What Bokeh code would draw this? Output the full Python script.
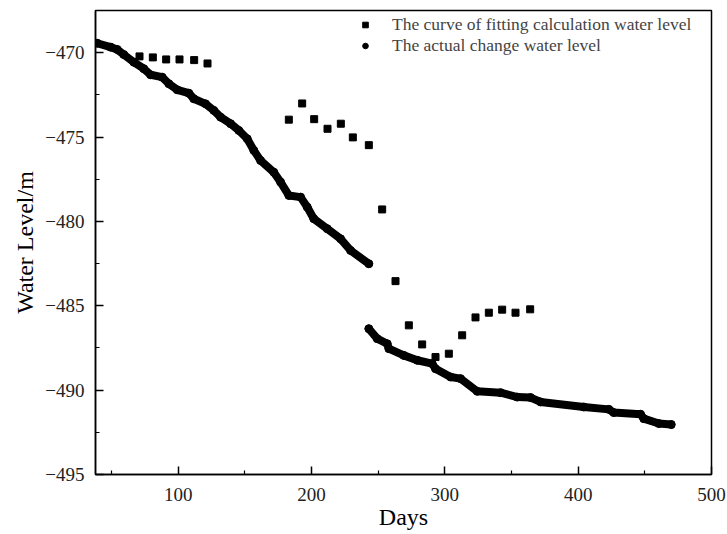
from bokeh.plotting import figure
from bokeh.models import Range1d, FixedTicker, Legend, LegendItem
from bokeh.embed import file_html
from bokeh.resources import INLINE

# ---- data ----
fit_days = [71, 81, 91, 101, 112, 122,
            183, 193, 202, 212, 222, 231, 243, 253,
            263, 273, 283, 293, 303, 313, 323, 333, 343, 353, 364]
fit_level = [-470.22, -470.28, -470.40, -470.40, -470.44, -470.64,
             -473.97, -473.01, -473.94, -474.51, -474.21, -475.02, -475.48, -479.29,
             -483.54, -486.16, -487.29, -488.04, -487.84, -486.75, -485.69, -485.41,
             -485.23, -485.41, -485.21]

actual_days_1 = [39.3, 49.3, 54.3, 59.2, 66.7, 74.2, 79.3, 88.0, 93.0, 99.3, 108.0, 111.7,
                 120.5, 126.7, 131.8, 139.3, 145.5, 151.8, 156.7, 161.8, 171.7, 176.8,
                 183.0, 191.8, 196.8, 201.7, 211.8, 221.8, 229.3, 243.0]
actual_level_1 = [-469.44, -469.67, -469.81, -470.11, -470.56, -470.95, -471.31, -471.45,
                  -471.84, -472.20, -472.40, -472.73, -473.03, -473.42, -473.82, -474.21,
                  -474.61, -475.10, -475.79, -476.39, -477.08, -477.67, -478.46, -478.56,
                  -479.15, -479.84, -480.43, -481.03, -481.72, -482.51]
actual_days_2 = [243.0, 249.3, 256.8, 258.0, 269.2, 279.3, 290.5, 293.0, 304.3, 311.8,
                 324.3, 341.8, 354.3, 364.3, 371.8, 404.2, 423.0, 426.7, 446.8, 449.2,
                 460.5, 469.8]
actual_level_2 = [-486.36, -486.95, -487.25, -487.54, -487.94, -488.23, -488.43, -488.73,
                  -489.22, -489.32, -490.07, -490.15, -490.41, -490.44, -490.70, -491.00,
                  -491.14, -491.33, -491.43, -491.69, -491.98, -492.04]

x_ticks = [100, 200, 300, 400, 500]
x_minor = [50, 150, 250, 350, 450]
y_ticks = [-495, -490, -485, -480, -475, -470]
y_minor = [-492.5, -487.5, -482.5, -477.5, -472.5, -467.5]

FONT = "Liberation Serif"

p = figure(width=727, height=534, output_backend="svg", toolbar_location=None,
           x_range=Range1d(38, 500), y_range=Range1d(-495, -467.5),
           min_border_left=95, min_border_right=16, min_border_top=10, min_border_bottom=60)
p.background_fill_color = "white"
p.border_fill_color = "white"
p.grid.visible = False
p.outline_line_color = "black"
p.outline_line_width = 1.5

for ax in (p.xaxis[0], p.yaxis[0]):
    ax.axis_line_color = "black"
    ax.axis_line_width = 1.5
    ax.major_tick_line_color = "black"
    ax.minor_tick_line_color = "black"
    ax.major_tick_line_width = 1.5
    ax.minor_tick_line_width = 1.2
    ax.major_tick_in = 8
    ax.major_tick_out = 0
    ax.minor_tick_in = 4
    ax.minor_tick_out = 0
    ax.major_label_text_font = FONT
    ax.major_label_text_font_size = "19px"
    ax.major_label_text_color = "#222222"
    ax.axis_label_text_font = FONT
    ax.axis_label_text_font_size = "24px"
    ax.axis_label_text_font_style = "normal"
    ax.axis_label_text_color = "black"

p.xaxis.ticker = FixedTicker(ticks=x_ticks, minor_ticks=x_minor)
p.yaxis.ticker = FixedTicker(ticks=y_ticks, minor_ticks=y_minor)
p.yaxis.major_label_overrides = {t: "\u2212" + str(abs(t)) for t in y_ticks}
p.xaxis.axis_label = "Days"
p.yaxis.axis_label = "Water Level/m"
p.xaxis.major_label_standoff = 13
p.yaxis.major_label_standoff = 11
p.xaxis.axis_label_standoff = 0
p.yaxis.axis_label_standoff = 4

# actual curve (thick dotted trace)
p.line(actual_days_1, actual_level_1, line_width=8, color="black", line_cap="round", line_join="round")
p.line(actual_days_2, actual_level_2, line_width=8, color="black", line_cap="round", line_join="round")
act = p.scatter(actual_days_1 + actual_days_2, actual_level_1 + actual_level_2,
                marker="circle", size=8, color="black")
fit = p.scatter(fit_days, fit_level, marker="square", size=7, color="black")

legend = Legend(items=[LegendItem(label="The curve of fitting calculation water level", renderers=[fit]),
                       LegendItem(label="The actual change water level", renderers=[act])],
                location=(263, 418))
legend.border_line_color = None
legend.background_fill_alpha = 0
legend.label_text_font = FONT
legend.label_text_font_size = "17.5px"
legend.glyph_width = 14
legend.glyph_height = 21
legend.label_height = 21
legend.label_standoff = 20
legend.spacing = 0
legend.padding = 0
legend.margin = 0
p.add_layout(legend)

open("out.html", "w").write(file_html(p, INLINE))
